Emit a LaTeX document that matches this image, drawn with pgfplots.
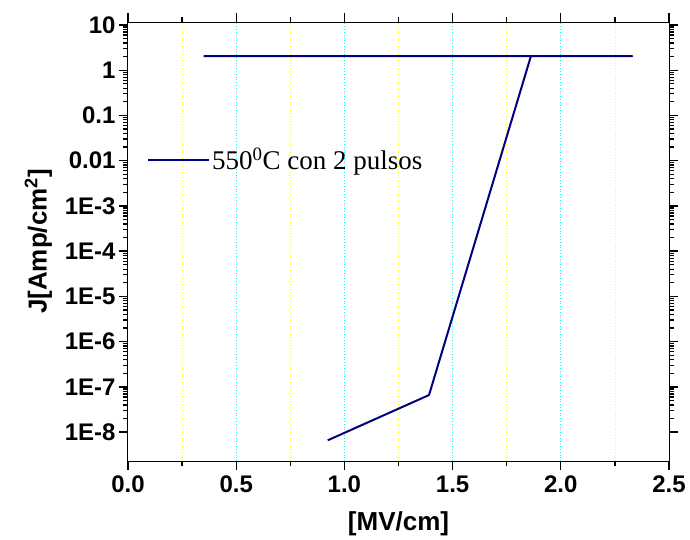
\documentclass[border=0pt]{standalone}
\usepackage{pgfplots}
\pgfplotsset{compat=1.18}
\usepackage{fontspec}
\setmainfont{Liberation Sans}
\newfontfamily\timesf{Liberation Serif}
\definecolor{navyline}{RGB}{0,0,128}
\definecolor{gridcyan}{RGB}{0,255,255}
\definecolor{gridyellow}{RGB}{255,255,0}
\begin{document}
\begin{tikzpicture}
\begin{axis}[
  scale only axis,
  width=541pt, height=439pt,
  xmin=0, xmax=2.5,
  ymode=log,
  ymin=2.3e-9, ymax=11.6,
  xtick={0,0.5,1,1.5,2,2.5},
  xticklabels={0.0,0.5,1.0,1.5,2.0,2.5},
  minor xtick={0.25,0.75,1.25,1.75,2.25},
  ytick={1e-8,1e-7,1e-6,1e-5,1e-4,1e-3,0.01,0.1,1,10},
  yticklabels={1E-8,1E-7,1E-6,1E-5,1E-4,1E-3,0.01,0.1,1,10},
  tick align=outside,
  xtick pos=both, ytick pos=both,
  major tick length=9pt,
  minor tick length=5pt,
  every tick/.append style={black, line width=1.3pt},
  axis line style={line width=1pt},
  /pgf/number format/assume math mode=true,
  tick label style={font=\fontsize{24}{24}\selectfont\bfseries},
  xticklabel style={yshift=-2pt},
  label style={font=\fontsize{26}{26}\selectfont\bfseries},
  xlabel={[MV/cm]},
  ylabel={J[Amp/cm\textsuperscript{2}]},
  xlabel style={yshift=-12pt},
  ylabel style={yshift=6pt},
  legend style={at={(0.035,0.686)}, anchor=west, draw=none, fill=none, inner sep=0pt,
    font=\timesf\fontsize{27}{27}\selectfont},
  legend cell align=left,
  legend image code/.code={\draw[#1] (0pt,0pt) -- (61pt,0pt);},
]
% vertical grid lines (minor: yellow, major: cyan)
\addplot[gridyellow, dotted, line width=0.8pt, forget plot] coordinates {(0.25,2.3e-9) (0.25,11.6)};
\addplot[gridyellow, dotted, line width=0.8pt, forget plot] coordinates {(0.75,2.3e-9) (0.75,11.6)};
\addplot[gridyellow, dotted, line width=0.8pt, forget plot] coordinates {(1.25,2.3e-9) (1.25,11.6)};
\addplot[gridyellow, dotted, line width=0.8pt, forget plot] coordinates {(1.75,2.3e-9) (1.75,11.6)};
\addplot[gridyellow, dotted, line width=0.8pt, forget plot] coordinates {(2.25,2.3e-9) (2.25,11.6)};
\addplot[gridcyan, dotted, line width=0.8pt, forget plot] coordinates {(0.5,2.3e-9) (0.5,11.6)};
\addplot[gridcyan, dotted, line width=0.8pt, forget plot] coordinates {(1.0,2.3e-9) (1.0,11.6)};
\addplot[gridcyan, dotted, line width=0.8pt, forget plot] coordinates {(1.5,2.3e-9) (1.5,11.6)};
\addplot[gridcyan, dotted, line width=0.8pt, forget plot] coordinates {(2.0,2.3e-9) (2.0,11.6)};
\addplot[navyline, line width=2pt, line join=round] coordinates {
  (0.923,6.6e-9) (1.391,6.6e-8) (1.862,2.05) (2.33,2.05) (0.35,2.05)
};
\addlegendentry{550\textsuperscript{0}C con 2 pulsos}
\end{axis}
\path (current axis.south west) ++(-128pt,-78pt) coordinate (bbA);
\path (current axis.north east) ++(21pt,22pt) coordinate (bbB);
\path (bbA) rectangle (bbB);
\end{tikzpicture}
\end{document}
